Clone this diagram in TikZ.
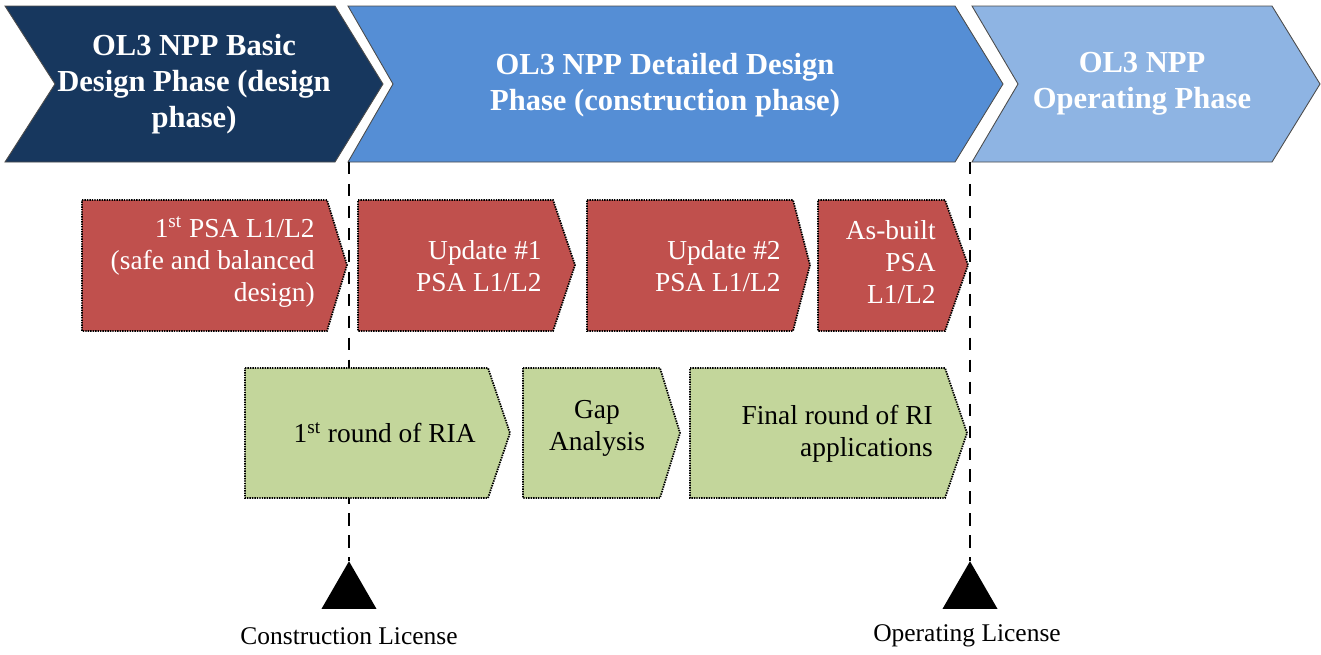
\documentclass[tikz,border=0pt]{standalone}
\usepackage{fontspec}
\setmainfont{Liberation Serif}
\usetikzlibrary{shapes.geometric}
\definecolor{navy}{RGB}{23,55,94}
\definecolor{midblue}{RGB}{85,142,213}
\definecolor{lightblue}{RGB}{142,180,227}
\definecolor{brickred}{RGB}{192,80,77}
\definecolor{olivegreen}{RGB}{195,214,155}
\tikzstyle{phase} = [draw=black!70, line width=0.5pt]
\tikzstyle{phasetxt} = [text=white, font=\bfseries\fontsize{17.4}{20.5}\selectfont, align=center, inner sep=0pt]
\tikzstyle{psabox} = [draw=black, fill=brickred, dash pattern=on 0.8pt off 0.6pt, line width=1pt]
\tikzstyle{psatxt} = [text=white, font=\fontsize{15.6}{18.2}\selectfont, align=right, inner sep=0pt]
\tikzstyle{riabox} = [draw=black, fill=olivegreen, dash pattern=on 0.8pt off 0.6pt, line width=1pt]
\tikzstyle{riatxt} = [text=black, font=\fontsize{15.6}{18.2}\selectfont, align=right, inner sep=0pt]
\tikzstyle{milestone} = [black, line width=1.6pt, dash pattern=on 7pt off 5.5pt]
\tikzstyle{flag} = [regular polygon, regular polygon sides=3, fill=black, inner sep=0pt, minimum size=1.27cm]
\tikzstyle{flagtxt} = [font=\fontsize{14.5}{17}\selectfont, inner sep=0pt]

\begin{document}
\begin{tikzpicture}[x=0.02cm, y=-0.02cm]
\useasboundingbox (0,0) rectangle (1321,654);
% phases
\draw[phase, fill=navy] (5,6) -- (335,6) -- (383,84) -- (335,162) -- (5,162) -- (55,84) -- cycle;
\draw[phase, fill=midblue] (348,6) -- (955,6) -- (1003,84) -- (955,162) -- (348,162) -- (393,84) -- cycle;
\draw[phase, fill=lightblue] (972,6) -- (1272,6) -- (1320,84) -- (1272,162) -- (972,162) -- (1018,84) -- cycle;
\node[phasetxt] (basic) at (194,84) {OL3 NPP Basic\\Design Phase (design\\phase)};
\node[phasetxt] (detailed) at (665,85) {OL3 NPP Detailed Design\\Phase (construction phase)};
\node[phasetxt] (operating) at (1142,84) {OL3 NPP\\Operating Phase};
% licenses
\coordinate (clTop) at (349,162);
\coordinate (olTop) at (970,162);
\node[flag] (clTri) at (349,593) {};
\node[flag] (olTri) at (970,593) {};
\draw[milestone] (clTop) -- (clTri.corner 1);
\draw[milestone] (olTop) -- (olTri.corner 1);
\node[flagtxt] (clLab) at (349,636) {Construction License};
\node[flagtxt] (olLab) at (967,636) {Operating License};
% PSA row
\draw[psabox] (82,200) -- (327,200) -- (347,265) -- (327,331) -- (82,331) -- cycle;
\draw[psabox] (358,200) -- (553,200) -- (575,265) -- (553,331) -- (358,331) -- cycle;
\draw[psabox] (587,200) -- (793,200) -- (810,265) -- (793,331) -- (587,331) -- cycle;
\draw[psabox] (818,200) -- (945,200) -- (968,265) -- (945,331) -- (818,331) -- cycle;
\node[psatxt, anchor=east] (psaFirst) at (315,262) {1\textsuperscript{st} PSA L1/L2\\(safe and balanced\\design)};
\node[psatxt, anchor=east] (psaUpdA) at (542,266) {Update \#1\\PSA L1/L2};
\node[psatxt, anchor=east] (psaUpdB) at (781,266) {Update \#2\\PSA L1/L2};
\node[psatxt, anchor=east] (psaBuilt) at (936,262) {As-built\\PSA\\L1/L2};
% RIA row
\draw[riabox] (245,368) -- (488,368) -- (510,433) -- (488,498) -- (245,498) -- cycle;
\draw[riabox] (523,368) -- (660,368) -- (680,433) -- (660,498) -- (523,498) -- cycle;
\draw[riabox] (690,368) -- (945,368) -- (967,433) -- (945,498) -- (690,498) -- cycle;
\node[riatxt, anchor=east] (riaFirst) at (476,433) {1\textsuperscript{st} round of RIA};
\node[riatxt, align=center] (riaGap) at (597,428) {Gap\\Analysis};
\node[riatxt, anchor=east] (riaFinal) at (933,434) {Final round of RI\\applications};
\end{tikzpicture}
\end{document}
